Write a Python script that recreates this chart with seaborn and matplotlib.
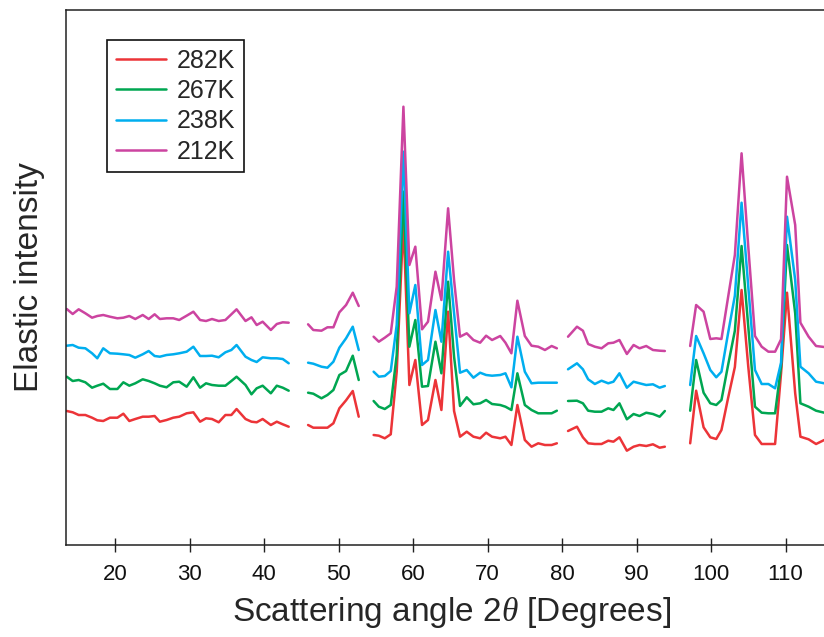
import matplotlib
matplotlib.use("Agg")
import matplotlib.pyplot as plt
import pandas as pd
import seaborn as sns

# ---- data ----
temps = ["282K", "267K", "238K", "212K"]
colors = ["#EC3438", "#00A651", "#00AEEF", "#CC44A0"]

angle_seg1 = [13.5, 14.3, 15.1, 16.0, 16.9, 17.6, 18.4, 19.3, 20.3, 21.1, 21.9, 22.7,
              23.7, 24.5, 25.3, 26.0, 26.9, 27.8, 28.6, 29.6, 30.5, 31.4, 32.2, 33.0,
              33.9, 34.8, 35.6, 36.3, 37.5, 38.3, 39.0, 39.8, 40.9, 41.7, 42.5, 43.3]
angle_seg2 = [45.9, 46.6, 47.7, 48.5, 49.3, 50.1, 51.0, 51.9, 52.7]
angle_seg3 = [54.7, 55.4, 56.2, 57.0, 57.8, 58.7, 59.5, 60.3, 61.2, 62.0, 63.0, 63.8,
              64.7, 65.5, 66.3, 67.2, 68.1, 69.0, 69.8, 70.6, 71.7, 72.4, 73.2, 74.0,
              75.0, 75.9, 76.8, 77.7, 78.6, 79.3]
angle_seg4 = [80.8, 82.0, 82.8, 83.5, 84.4, 85.3, 86.2, 86.9, 87.7, 88.7, 89.6, 90.4,
              91.3, 92.2, 93.1, 93.8]
angle_seg5 = [97.2, 98.0, 99.0, 99.9, 100.7, 101.4, 102.3, 103.2, 104.1, 105.0, 105.9,
              106.8, 107.7, 108.6, 109.4, 110.2, 111.3, 112.0, 113.1, 114.1, 115.2]

int_282K = [
    13.40, 13.27, 13.00, 13.00, 12.73, 12.47, 12.40, 12.73, 12.73, 13.13, 12.40, 12.60,
    12.83, 12.83, 12.90, 12.33, 12.50, 12.73, 12.83, 13.17, 13.27, 12.33, 12.67, 12.60,
    12.27, 13.00, 13.00, 13.60, 12.60, 12.33, 12.27, 12.60, 12.00, 12.33, 12.07, 11.83,
    12.00, 11.73, 11.73, 11.73, 12.17, 13.67, 14.47, 15.40, 12.83,
    11.00, 10.93, 10.67, 11.07, 17.33, 32.33, 16.00, 18.50, 12.00, 12.50, 16.50, 13.50,
    23.33, 13.40, 10.83, 11.33, 10.83, 10.67, 11.23, 10.83, 10.67, 10.83, 10.00, 14.00,
    10.50, 9.83, 10.17, 10.00, 10.00, 10.17,
    11.40, 11.83, 10.77, 10.17, 10.10, 10.10, 10.43, 10.33, 10.77, 9.43, 9.83, 10.00,
    9.90, 10.07, 9.73, 9.83,
    10.17, 15.43, 11.77, 10.77, 10.60, 11.50, 14.73, 17.80, 25.50, 17.83, 11.00, 10.10,
    10.10, 10.10, 17.17, 25.23, 15.17, 10.83, 10.57, 10.10, 10.50]

int_267K = [
    16.83, 16.40, 16.50, 16.27, 15.73, 15.93, 16.13, 15.60, 15.60, 16.27, 15.93, 16.17,
    16.57, 16.40, 16.17, 15.93, 15.77, 16.27, 16.33, 15.83, 16.77, 15.73, 16.17, 16.00,
    15.93, 15.93, 16.40, 16.83, 16.00, 15.07, 15.67, 15.93, 15.17, 15.93, 15.73, 15.43,
    15.23, 15.13, 14.67, 15.00, 15.50, 17.00, 17.40, 18.93, 16.50,
    14.40, 13.83, 13.60, 14.00, 19.00, 35.33, 19.83, 22.50, 15.83, 15.90, 20.33, 17.17,
    26.33, 18.83, 13.90, 14.77, 14.07, 14.17, 14.50, 14.10, 14.00, 13.83, 13.50, 17.17,
    14.00, 13.50, 13.17, 13.17, 13.17, 13.43,
    14.40, 14.43, 14.17, 13.43, 13.33, 13.33, 13.67, 13.50, 14.17, 12.57, 13.10, 12.90,
    13.23, 13.10, 12.83, 13.40,
    13.43, 18.50, 15.23, 14.17, 14.00, 14.50, 18.03, 21.43, 29.90, 21.83, 13.83, 13.23,
    13.17, 13.17, 17.83, 30.00, 23.17, 14.17, 13.83, 13.43, 13.23]

int_238K = [
    19.93, 20.00, 19.73, 19.67, 19.17, 18.67, 19.67, 19.17, 19.13, 19.07, 19.00, 18.73,
    19.07, 19.40, 18.90, 18.83, 19.00, 19.07, 19.17, 19.33, 19.83, 18.90, 18.90, 18.93,
    18.77, 19.27, 19.50, 20.00, 18.83, 18.50, 18.30, 18.77, 18.67, 18.67, 18.60, 18.17,
    18.23, 18.13, 17.83, 17.73, 18.33, 19.73, 20.67, 21.83, 19.50,
    17.33, 16.83, 16.90, 17.40, 22.00, 39.33, 23.17, 26.00, 18.00, 18.50, 23.50, 20.33,
    29.33, 23.20, 17.23, 17.50, 16.73, 17.23, 17.00, 16.93, 17.00, 17.17, 15.77, 20.83,
    17.33, 16.17, 16.23, 16.23, 16.23, 16.23,
    17.57, 18.17, 17.57, 16.57, 16.10, 16.43, 16.17, 16.33, 17.17, 15.73, 16.33, 16.17,
    16.00, 16.07, 15.73, 15.90,
    16.00, 20.90, 19.17, 17.50, 16.77, 17.33, 21.23, 24.93, 34.23, 25.83, 17.50, 16.10,
    16.10, 15.67, 18.23, 32.83, 26.50, 17.83, 17.17, 16.33, 16.17]

int_212K = [
    23.60, 23.10, 23.57, 23.17, 22.73, 22.90, 23.00, 22.83, 22.67, 22.73, 22.90, 22.60,
    23.00, 22.60, 23.07, 22.60, 22.67, 22.67, 22.50, 22.93, 23.33, 22.50, 22.40, 22.60,
    22.40, 22.50, 23.07, 23.57, 22.40, 22.77, 22.00, 22.33, 21.50, 22.10, 22.27, 22.23,
    22.07, 21.50, 21.43, 21.77, 21.77, 23.27, 24.00, 25.23, 23.90,
    20.83, 20.33, 20.73, 21.17, 25.83, 43.83, 28.00, 29.83, 21.57, 22.33, 27.33, 24.50,
    33.67, 26.50, 20.83, 21.17, 20.50, 20.23, 20.93, 20.50, 20.90, 20.23, 19.17, 24.43,
    20.90, 19.93, 19.83, 19.50, 19.90, 19.67,
    20.83, 21.83, 21.43, 20.10, 19.83, 19.67, 20.17, 20.23, 20.50, 19.10, 20.00, 19.67,
    19.90, 19.50, 19.43, 19.40,
    19.90, 24.00, 23.33, 20.60, 20.67, 20.60, 24.83, 29.00, 39.17, 29.83, 20.90, 19.83,
    19.33, 19.33, 20.57, 36.83, 32.00, 22.23, 20.83, 19.90, 19.80]

x_ticks = [20, 30, 40, 50, 60, 70, 80, 90, 100, 110]

# ---- long table ----
segments = [angle_seg1, angle_seg2, angle_seg3, angle_seg4, angle_seg5]
angles, seg_ids = [], []
for i, seg in enumerate(segments):
    angles += seg
    seg_ids += [i] * len(seg)
series = {"282K": int_282K, "267K": int_267K, "238K": int_238K, "212K": int_212K}
frames = []
for t in temps:
    frames.append(pd.DataFrame({"angle": angles, "intensity": series[t],
                                "segment": seg_ids, "T": t}))
df = pd.concat(frames, ignore_index=True)

# ---- style ----
sns.set_style("white")
plt.rcParams["font.family"] = ["Liberation Sans", "DejaVu Sans"]
plt.rcParams["mathtext.fontset"] = "custom"
plt.rcParams["mathtext.it"] = "Liberation Serif:italic"
plt.rcParams["mathtext.rm"] = "Liberation Sans"

fig = plt.figure(figsize=(8.24, 6.37), dpi=100)
ax = fig.add_axes([66 / 824, 92 / 637, 794 / 824, 535 / 637])

sns.lineplot(data=df, x="angle", y="intensity", hue="T", hue_order=temps,
             palette=colors, units="segment", estimator=None, sort=False,
             linewidth=1.8, ax=ax)

ax.set_xlim(13.4, 120)
ax.set_ylim(0, 53.5)
ax.set_xticks(x_ticks)
ax.set_xticklabels([str(v) for v in x_ticks], fontsize=16)
ax.set_yticks([])
ax.tick_params(axis="x", bottom=True, direction="inout", length=10, width=1.0,
               pad=9, color="#222222", labelcolor="#111111")
for s in ax.spines.values():
    s.set_color("#222222")
    s.set_linewidth(1.1)

ax.set_xlabel(r"Scattering angle 2$\mathit{\theta}$ [Degrees]", fontsize=24)
ax.xaxis.set_label_coords(0.486, -0.093)
ax.set_ylabel("Elastic intensity", fontsize=24)
ax.yaxis.set_label_coords(-0.027, 0.5)

handles, labels = ax.get_legend_handles_labels()
leg = ax.legend(handles, labels, loc="upper left", bbox_to_anchor=(41 / 794, 1 - 30 / 535),
                fontsize=18, frameon=True, fancybox=False, framealpha=1,
                edgecolor="#111111", handlelength=2.0, handletextpad=0.45,
                labelspacing=0.25, borderpad=0.35, borderaxespad=0)
leg.get_frame().set_linewidth(1.2)
for h in leg.get_lines():
    h.set_linewidth(1.8)

fig.savefig("out.png", dpi=100)
